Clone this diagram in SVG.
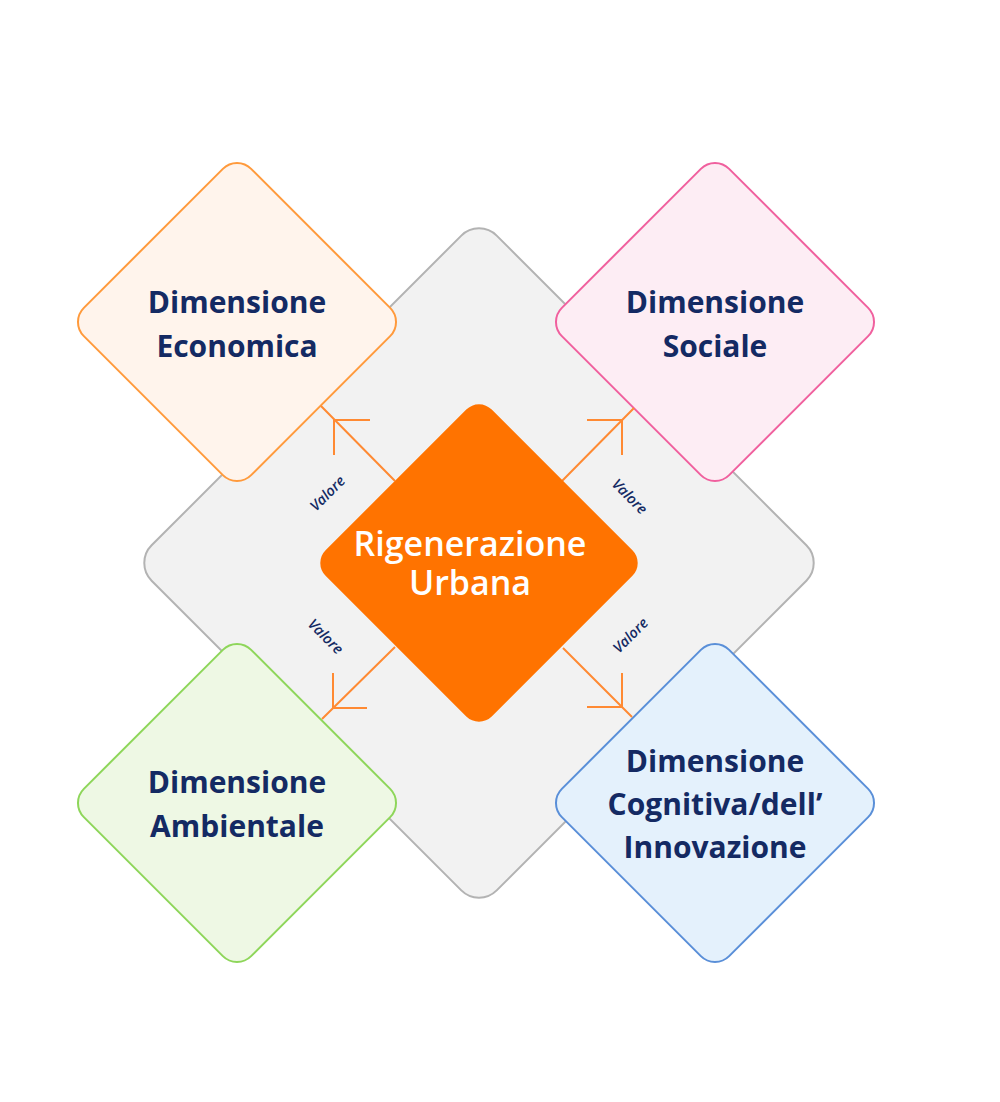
<svg xmlns="http://www.w3.org/2000/svg" width="1000" height="1102" viewBox="0 0 1000 1102">
<style>
.lbl{font-family:"Open Sans","Noto Sans",sans-serif;font-weight:700;font-size:30px;fill:#142a63;text-anchor:middle}
.ctr{font-family:"Open Sans","Noto Sans",sans-serif;font-weight:600;font-size:34px;fill:#ffffff;text-anchor:middle}
.val{font-family:"Open Sans","Noto Sans",sans-serif;font-style:italic;font-weight:600;font-size:14.5px;fill:#142a63;text-anchor:middle}
.conn{stroke:#ff8a33;stroke-width:2;fill:none}
</style>
<rect width="1000" height="1102" fill="#ffffff"/>
<g id="bg">
<rect x="235" y="319" width="488" height="488" rx="25" transform="rotate(45 479 563)" fill="#f2f2f2" stroke="#b3b3b3" stroke-width="2"/>
</g>
<g id="economica">
<rect x="118.7" y="203.7" width="236.6" height="236.6" rx="20" transform="rotate(45 237 322)" fill="#fff4ec" stroke="#ff9a3c" stroke-width="2"/>
<text class="lbl" x="237" y="313">Dimensione</text>
<text class="lbl" x="237" y="357">Economica</text>
</g>
<g id="sociale">
<rect x="596.7" y="203.7" width="236.6" height="236.6" rx="20" transform="rotate(45 715 322)" fill="#fdedf4" stroke="#f0609e" stroke-width="2"/>
<text class="lbl" x="715" y="313">Dimensione</text>
<text class="lbl" x="715" y="357">Sociale</text>
</g>
<g id="ambientale">
<rect x="118.7" y="684.7" width="236.6" height="236.6" rx="20" transform="rotate(45 237 803)" fill="#eef8e4" stroke="#8ed65a" stroke-width="2"/>
<text class="lbl" x="237" y="793">Dimensione</text>
<text class="lbl" x="237" y="837">Ambientale</text>
</g>
<g id="cognitiva">
<rect x="596.7" y="684.7" width="236.6" height="236.6" rx="20" transform="rotate(45 715 803)" fill="#e4f1fc" stroke="#5a8fd8" stroke-width="2"/>
<text class="lbl" x="715" y="772">Dimensione</text>
<text class="lbl" x="715" y="815">Cognitiva/dell’</text>
<text class="lbl" x="715" y="858">Innovazione</text>
</g>
<g id="connectors">
<path class="conn" d="M395 481 L321 406 M370 420 L334 420 L334 455"/>
<path class="conn" d="M562 481 L634 408 M587 420 L622 420 L622 455"/>
<path class="conn" d="M395 647 L322 719 M333 673 L333 708 L367 708"/>
<path class="conn" d="M563 648 L632 717 M622 673 L622 707 L587 707"/>
<text class="val" transform="translate(331 497) rotate(-45)">Valore</text>
<text class="val" transform="translate(626 500) rotate(45)">Valore</text>
<text class="val" transform="translate(322 640) rotate(45)">Valore</text>
<text class="val" transform="translate(634 639) rotate(-45)">Valore</text>
</g>
<g id="rigenerazione">
<rect x="361.5" y="445.5" width="235" height="235" rx="18" transform="rotate(45 479 563)" fill="#ff7300"/>
<text class="ctr" x="470" y="556">Rigenerazione</text>
<text class="ctr" x="470" y="595">Urbana</text>
</g>
</svg>
